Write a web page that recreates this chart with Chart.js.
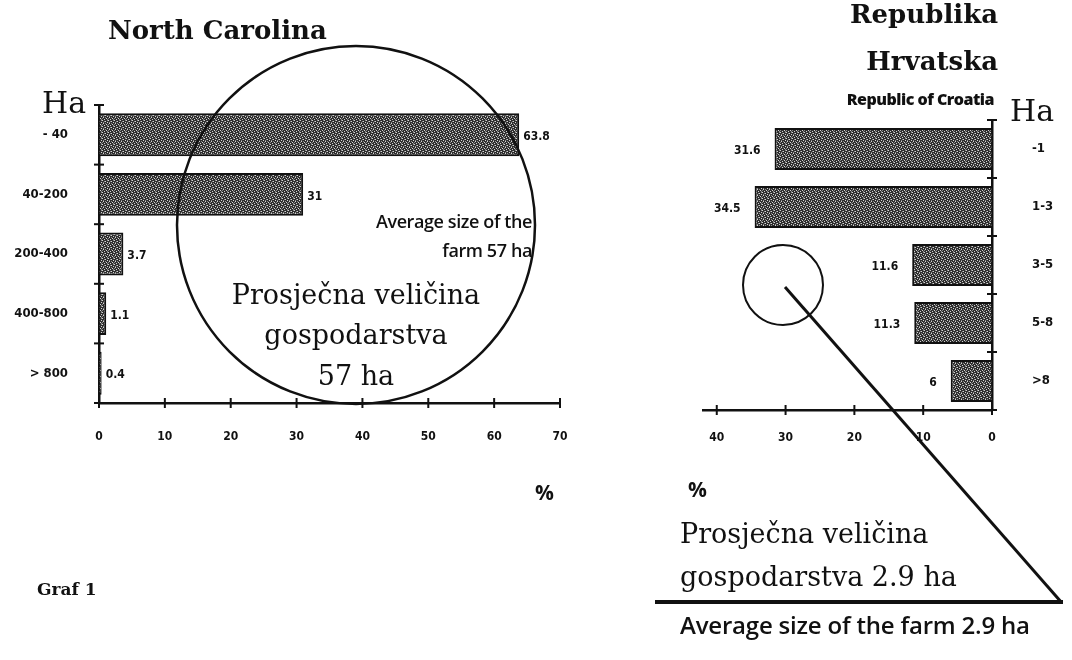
<!DOCTYPE html>
<html>
<head>
<meta charset="utf-8">
<script src="https://cdn.jsdelivr.net/npm/chart.js@4.4.1/dist/chart.umd.min.js"></script>
<style>
  body { margin: 0; background: #fff; }
  #page { position: relative; width: 1072px; height: 660px; overflow: hidden; background: #fff; }
  canvas { position: absolute; left: 0; top: 0; }
  .t { position: absolute; line-height: 1; color: #111; white-space: nowrap; }
  .serif { font-family: "DejaVu Serif", "Liberation Serif", serif; }
  .sans { font-family: "Open Sans", "DejaVu Sans", sans-serif; }
  svg { position: absolute; left: 0; top: 0; pointer-events: none; }
</style>
</head>
<body>
<div id="page">
  <canvas id="nc" width="1072" height="660"></canvas>
  <canvas id="hr" width="1072" height="660"></canvas>

  <svg width="1072" height="660">
    <circle cx="356" cy="225" r="179" fill="none" stroke="#111" stroke-width="2.5"/>
    <circle cx="783" cy="285" r="40" fill="none" stroke="#111" stroke-width="2"/>
    <line x1="785" y1="287" x2="1062" y2="603" stroke="#111" stroke-width="3"/>
    <line x1="655" y1="602" x2="1063" y2="602" stroke="#111" stroke-width="4"/>
  </svg>

  <!-- lijevi graf -->
  <div class="t serif" style="left:108px;top:17px;font-size:26px;font-weight:bold;">North Carolina</div>
  <div class="t serif" style="left:42px;top:88px;font-size:30px;">Ha</div>
  <div class="t sans" style="right:540px;top:212px;font-size:18px;font-weight:600;letter-spacing:-0.4px;">Average size of the</div>
  <div class="t sans" style="right:540px;top:241px;font-size:18px;font-weight:600;letter-spacing:-0.4px;">farm 57 ha</div>
  <div class="t serif" style="left:206px;width:300px;text-align:center;top:281px;font-size:27px;">Prosječna veličina</div>
  <div class="t serif" style="left:206px;width:300px;text-align:center;top:321px;font-size:27px;">gospodarstva</div>
  <div class="t serif" style="left:206px;width:300px;text-align:center;top:362px;font-size:27px;">57 ha</div>
  <div class="t sans" style="left:535px;top:482px;font-size:21px;font-weight:bold;">%</div>
  <div class="t serif" style="left:37px;top:581px;font-size:17px;font-weight:bold;">Graf 1</div>

  <!-- desni graf -->
  <div class="t serif" style="right:74px;top:1px;font-size:26px;font-weight:bold;">Republika</div>
  <div class="t serif" style="right:74px;top:48px;font-size:26px;font-weight:bold;">Hrvatska</div>
  <div class="t sans" style="right:78px;top:91px;font-size:16px;font-weight:800;letter-spacing:-0.5px;">Republic of Croatia</div>
  <div class="t serif" style="left:1010px;top:96px;font-size:30px;">Ha</div>
  <div class="t sans" style="left:688px;top:479px;font-size:21px;font-weight:bold;">%</div>
  <div class="t serif" style="left:680px;top:520px;font-size:27px;">Prosječna veličina</div>
  <div class="t serif" style="left:680px;top:563px;font-size:27px;">gospodarstva 2.9 ha</div>
  <div class="t sans" style="left:680px;top:613px;font-size:24px;font-weight:600;letter-spacing:-0.2px;">Average size of the farm 2.9 ha</div>
</div>

<script>
// Podaci - North Carolina
const ncKategorije = ["- 40", "40-200", "200-400", "400-800", "> 800"];
const ncPostotak = [63.8, 31, 3.7, 1.1, 0.4];
const ncOznake = ["63.8", "31", "3.7", "1.1", "0.4"];
const ncTicks = [0, 10, 20, 30, 40, 50, 60, 70];

// Podaci - Republika Hrvatska
const hrKategorije = ["-1", "1-3", "3-5", "5-8", ">8"];
const hrPostotak = [31.6, 34.5, 11.6, 11.3, 6];
const hrOznake = ["31.6", "34.5", "11.6", "11.3", "6"];
const hrTicks = [0, 10, 20, 30, 40];

// tockasta ispuna stupaca (kao na skeniranom grafu)
function uzorak() {
  const c = document.createElement("canvas");
  c.width = 6; c.height = 6;
  const g = c.getContext("2d");
  g.fillStyle = "#2e2e2e";
  g.fillRect(0, 0, 6, 6);
  g.fillStyle = "#d4d4d4";
  [[0,0],[3,1],[1,3],[4,4],[2,5],[5,2]].forEach(p => g.fillRect(p[0], p[1], 1, 1));
  g.fillStyle = "#8a8a8a";
  [[2,1],[5,0],[0,4],[3,3],[5,5],[1,2]].forEach(p => g.fillRect(p[0], p[1], 1, 1));
  return g.createPattern(c, "repeat");
}

const pismo = "'DejaVu Sans Condensed', 'DejaVu Sans', sans-serif";
const xFont = { family: pismo, size: 12, weight: "bold" };
const yFont = { family: pismo, size: 13, weight: "bold" };

// male crtice preko osi
const crtice = {
  id: "crtice",
  afterDraw(chart) {
    const ctx = chart.ctx;
    const x = chart.scales.x, y = chart.scales.y;
    ctx.save();
    ctx.strokeStyle = "#111";
    ctx.lineWidth = 2;
    x.ticks.forEach((t, i) => {
      const px = x.getPixelForTick(i);
      ctx.beginPath(); ctx.moveTo(px, y.bottom - 5); ctx.lineTo(px, y.bottom + 5); ctx.stroke();
    });
    const ax = y.position === "right" ? x.right : x.left;
    for (let i = 0; i <= y.ticks.length; i++) {
      const py = y.getPixelForValue(i - 0.5);
      ctx.beginPath(); ctx.moveTo(ax - 5, py); ctx.lineTo(ax + 5, py); ctx.stroke();
    }
    ctx.restore();
  }
};

// brojevi uz stupce
const brojevi = {
  id: "brojevi",
  afterDatasetsDraw(chart, args, opts) {
    const ctx = chart.ctx;
    const meta = chart.getDatasetMeta(0);
    ctx.save();
    ctx.font = "bold 12px " + pismo;
    ctx.fillStyle = "#111";
    ctx.textBaseline = "middle";
    meta.data.forEach((bar, i) => {
      if (opts.strana === "lijevo") {
        ctx.textAlign = "right";
        ctx.fillText(opts.oznake[i], bar.x - 14, bar.y + 2);
      } else {
        ctx.textAlign = "left";
        ctx.fillText(opts.oznake[i], bar.x + 4, bar.y + 2);
      }
    });
    ctx.restore();
  }
};

const ispuna = uzorak();

// North Carolina
new Chart(document.getElementById("nc"), {
  type: "bar",
  data: {
    labels: ncKategorije,
    datasets: [{
      data: ncPostotak,
      backgroundColor: ispuna,
      borderColor: "#111",
      borderWidth: 2,
      barPercentage: 0.72,
      categoryPercentage: 1
    }]
  },
  options: {
    indexAxis: "y",
    responsive: false,
    animation: false,
    layout: { padding: { left: 0, right: 512, top: 105, bottom: 212 } },
    plugins: {
      legend: { display: false },
      tooltip: { enabled: false },
      brojevi: { oznake: ncOznake, strana: "desno" }
    },
    scales: {
      x: {
        min: 0, max: 70,
        afterBuildTicks: (s) => { s.ticks = ncTicks.map(v => ({ value: v })); },
        afterFit: (s) => { s.height = 45; },
        grid: { drawOnChartArea: false, drawTicks: false },
        border: { color: "#111", width: 2.5 },
        ticks: { padding: 27, color: "#111", font: xFont }
      },
      y: {
        afterFit: (s) => { s.width = 99; },
        grid: { drawOnChartArea: false, drawTicks: false },
        border: { color: "#111", width: 2.5 },
        ticks: { padding: 31, color: "#111", font: yFont }
      }
    }
  },
  plugins: [crtice, brojevi]
});

// Republika Hrvatska
new Chart(document.getElementById("hr"), {
  type: "bar",
  data: {
    labels: hrKategorije,
    datasets: [{
      data: hrPostotak,
      backgroundColor: ispuna,
      borderColor: "#111",
      borderWidth: 2,
      barPercentage: 0.72,
      categoryPercentage: 1
    }]
  },
  options: {
    indexAxis: "y",
    responsive: false,
    animation: false,
    layout: { padding: { left: 703, right: 0, top: 120, bottom: 205 } },
    plugins: {
      legend: { display: false },
      tooltip: { enabled: false },
      brojevi: { oznake: hrOznake, strana: "lijevo" }
    },
    scales: {
      x: {
        reverse: true,
        min: 0, max: 42,
        afterBuildTicks: (s) => { s.ticks = hrTicks.map(v => ({ value: v })); },
        afterFit: (s) => { s.height = 45; },
        grid: { drawOnChartArea: false, drawTicks: false },
        border: { color: "#111", width: 2.5 },
        ticks: { padding: 21, color: "#111", font: xFont }
      },
      y: {
        position: "right",
        afterFit: (s) => { s.width = 80; },
        grid: { drawOnChartArea: false, drawTicks: false },
        border: { color: "#111", width: 2.5 },
        ticks: { padding: 40, color: "#111", font: yFont }
      }
    }
  },
  plugins: [crtice, brojevi]
});
</script>
</body>
</html>
